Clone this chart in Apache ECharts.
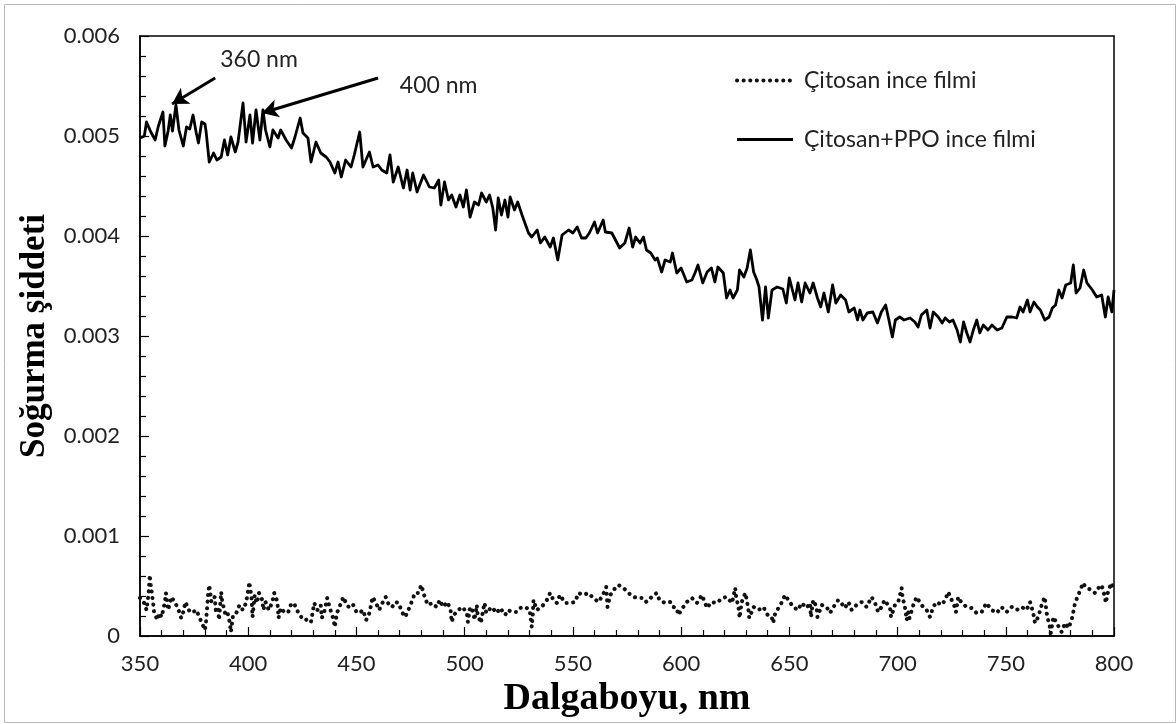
<!DOCTYPE html>
<html>
<head>
<meta charset="utf-8">
<title>Soğurma şiddeti</title>
<script src="https://cdn.jsdelivr.net/npm/echarts@6/dist/echarts.min.js"></script>
<style>
    html, body { margin: 0; padding: 0; background: #fff; }
    #chart { width: 1176px; height: 724px; }
</style>
</head>
<body>
<div id="chart"></div>
<script>
// Çitosan+PPO ince filmi (düz çizgi)
let ppoNm = [
    350, 352, 353, 355, 357, 358.5, 360.6, 361.5, 363, 364,
    365, 366.6, 368, 370, 371.5, 373, 374.5, 376, 377, 378.5,
    380, 380.5, 382, 384, 385.5, 387.5, 389, 390.5, 392, 394,
    395.3, 397.6, 399, 400.8, 402, 403.6, 405.4, 406.8, 408, 410,
    411.4, 413.8, 415, 417.5, 420, 421.6, 424, 425.3, 427.6, 429,
    431.3, 433.5, 436, 437.8, 440, 441.5, 443, 445, 447.5, 449,
    451.5, 453, 456, 457.7, 460, 461.7, 464, 465.5, 467, 469.3,
    471.7, 473.4, 474.8, 476, 478, 481, 483.7, 486, 488, 489,
    490.7, 492.5, 494, 496, 497.8, 499.4, 500.8, 502.5, 504.5, 506.4,
    507.8, 510, 511.5, 513, 514.3, 515.5, 517, 518.6, 520, 521,
    523, 524.5, 526.5, 529.5, 531, 533.5, 535, 537, 539.5, 541,
    543, 545, 548, 550, 552, 554, 556, 557.6, 560, 561.4,
    564, 565, 568, 571.6, 574, 576, 577.6, 579, 581, 582.6,
    584, 586, 588, 589, 591, 592.6, 595, 596, 598, 600,
    602.6, 605, 606.4, 607.8, 610, 612, 614, 615.6, 617, 619.5,
    621, 622.6, 624, 626, 627, 629, 630.5, 632, 633.5, 635,
    636, 637.6, 639, 640.3, 642, 644.4, 647, 648.6, 650, 652.6,
    654, 655.7, 657.3, 659.5, 661, 663, 664.5, 666, 668, 670,
    671.5, 673.7, 676, 677.5, 680, 681.5, 682.6, 684, 686, 688.6,
    690.7, 692.5, 694.5, 696, 697.6, 699, 701, 703, 705.8, 708,
    709.5, 711, 713.5, 715, 716.5, 718.8, 720.6, 722, 724, 725.6,
    727.5, 729, 730.5, 732, 733.5, 735, 736.6, 738, 739.6, 741.8,
    743.6, 746, 748.2, 750.5, 753, 755, 756.6, 758, 760, 761.2,
    763, 764.6, 766, 768, 770, 771.5, 773, 774.5, 776, 777.7,
    780, 781.2, 782.5, 784.3, 786, 787.5, 790, 792, 794.3, 796,
    797.3, 799, 800
];
let ppoVal = [
    0.00498, 0.00500, 0.00514, 0.00504, 0.00496, 0.00510, 0.00524, 0.00490, 0.00505, 0.00521,
    0.00505, 0.00531, 0.00506, 0.00490, 0.00509, 0.00507, 0.00521, 0.00503, 0.00493, 0.00514,
    0.00512, 0.00505, 0.00474, 0.00483, 0.00476, 0.00479, 0.00496, 0.00481, 0.00499, 0.00484,
    0.00494, 0.00533, 0.00494, 0.00521, 0.00493, 0.00526, 0.00496, 0.00526, 0.00506, 0.00489,
    0.00506, 0.00498, 0.00506, 0.00496, 0.00488, 0.00499, 0.00518, 0.00503, 0.00498, 0.00474,
    0.00494, 0.00483, 0.00479, 0.00474, 0.00463, 0.00474, 0.00459, 0.00476, 0.00469, 0.00481,
    0.00504, 0.00469, 0.00484, 0.00469, 0.00471, 0.00466, 0.00463, 0.00481, 0.00454, 0.00469,
    0.00448, 0.00466, 0.00446, 0.00463, 0.00444, 0.00461, 0.00449, 0.00448, 0.00456, 0.00431,
    0.00454, 0.00436, 0.00441, 0.00429, 0.00441, 0.00429, 0.00446, 0.00419, 0.00434, 0.00431,
    0.00443, 0.00434, 0.00441, 0.00428, 0.00406, 0.00438, 0.00421, 0.00436, 0.00419, 0.00439,
    0.00426, 0.00434, 0.00421, 0.00403, 0.00399, 0.00406, 0.00393, 0.00399, 0.00389, 0.00398,
    0.00376, 0.00401, 0.00406, 0.00403, 0.00409, 0.00398, 0.00398, 0.00403, 0.00414, 0.00403,
    0.00416, 0.00404, 0.00403, 0.00388, 0.00393, 0.00408, 0.00389, 0.00399, 0.00393, 0.00399,
    0.00386, 0.00383, 0.00376, 0.00378, 0.00364, 0.00376, 0.00374, 0.00383, 0.00363, 0.00368,
    0.00354, 0.00356, 0.00363, 0.00371, 0.00353, 0.00364, 0.00368, 0.00354, 0.00369, 0.00363,
    0.00338, 0.00346, 0.00338, 0.00346, 0.00366, 0.00359, 0.00368, 0.00386, 0.00364, 0.00356,
    0.00349, 0.00316, 0.00349, 0.00318, 0.00346, 0.00349, 0.00347, 0.00333, 0.00358, 0.00336,
    0.00353, 0.00334, 0.00353, 0.00343, 0.00353, 0.00338, 0.00329, 0.00343, 0.00324, 0.00351,
    0.00333, 0.00341, 0.00336, 0.00324, 0.00328, 0.00316, 0.00326, 0.00316, 0.00323, 0.00324,
    0.00313, 0.00324, 0.00331, 0.00316, 0.00299, 0.00316, 0.00319, 0.00316, 0.00318, 0.00314,
    0.00309, 0.00321, 0.00326, 0.00308, 0.00324, 0.00319, 0.00313, 0.00318, 0.00314, 0.00316,
    0.00306, 0.00294, 0.00314, 0.00303, 0.00294, 0.00306, 0.00316, 0.00303, 0.00311, 0.00306,
    0.00311, 0.00306, 0.00308, 0.00319, 0.00319, 0.00318, 0.00329, 0.00324, 0.00336, 0.00324,
    0.00334, 0.00329, 0.00326, 0.00316, 0.00319, 0.00328, 0.00331, 0.00346, 0.00338, 0.00351,
    0.00353, 0.00371, 0.00343, 0.00348, 0.00366, 0.00353, 0.00346, 0.00339, 0.00341, 0.00319,
    0.00339, 0.00324, 0.00346
];

// Çitosan ince filmi (noktalı çizgi)
let chitNm = [
    350, 351, 352, 353, 354, 354.5, 355, 356, 356.5, 358,
    359, 360, 361.5, 362, 363, 364.5, 366, 367.5, 369, 370,
    371, 372.5, 374, 376, 378, 379, 380, 380.5, 381.5, 382,
    383, 384.5, 385, 386, 386.5, 387.5, 388, 389, 389.5, 390.5,
    391.5, 392, 393, 394.5, 396, 397.5, 399, 400, 400.5, 401.5,
    402, 403, 404, 405, 406.5, 407, 408, 409.5, 411, 412,
    413.5, 414, 415, 417, 418.5, 420, 421.5, 423, 424.5, 426,
    427.5, 429, 430.5, 432, 433.5, 434, 435, 436.5, 438, 439.5,
    440, 441, 442.5, 444, 445.5, 447, 448.5, 450, 451.5, 453,
    454.5, 456, 457.5, 459, 460.5, 462, 463.5, 465, 466.5, 468,
    469.5, 471, 472.5, 474, 475.5, 477, 478.5, 480, 481.5, 483,
    485, 487, 488.5, 490, 492, 493.5, 494, 495, 497, 499,
    501, 501.5, 502.5, 504, 504.5, 505.6, 506, 507, 507.5, 508.7,
    509.2, 510, 512.5, 514.8, 516.4, 518.7, 520, 521.8, 524, 525.6,
    528, 530, 530.5, 531, 531.4, 531.8, 533.3, 535.6, 538, 539.5,
    541, 542.6, 544, 546.4, 548.7, 551, 552.6, 555, 557, 559.5,
    561.8, 563.3, 565, 565.4, 566, 566.5, 567.3, 568.8, 571, 573.4,
    575.7, 578, 580.3, 582.6, 584, 586.4, 588.7, 590, 592.6, 595,
    596.4, 598, 598.7, 601, 602.6, 605, 607.3, 609.6, 612, 614,
    616.5, 619, 621, 623.5, 625, 625.5, 626.5, 627, 628, 629.7,
    631, 631.5, 633.5, 635.8, 638, 640.5, 642, 642.5, 643.5, 645,
    646.6, 648, 650.5, 651.8, 654, 655.7, 658, 659.5, 660, 661,
    662.6, 663, 665, 667.2, 668.8, 671, 672.6, 674, 675.7, 677.3,
    678.8, 681, 683.4, 685.7, 688, 689.6, 691, 692.6, 694, 696.5,
    697, 698.8, 700.3, 701.9, 702.3, 703.4, 703.8, 704.2, 705, 705.5,
    707.3, 708.8, 711, 713.4, 715, 716.5, 718, 720.4, 722, 723.4,
    725, 725.4, 726.5, 727, 728, 729.6, 732, 734.2, 736.5, 738.9,
    741, 743.5, 745.8, 748, 750.4, 752.7, 755, 757.3, 759.6, 761.2,
    762.7, 763.5, 765, 766.6, 768, 768.9, 769.6, 770.4, 770.8, 772,
    773.5, 775.8, 777.4, 779, 780.4, 781.2, 782, 783.5, 785, 785.5,
    787.4, 789.7, 791.2, 792.8, 794.3, 795.8, 796.2, 797.4, 799, 799.5,
    800
];
let chitVal = [
    0.00038, 0.00034, 0.00033, 0.00026, 0.00043, 0.00061, 0.00051, 0.00034, 0.00024, 0.00016,
    0.00023, 0.00019, 0.00034, 0.00043, 0.00026, 0.00039, 0.00034, 0.00028, 0.00018, 0.00024,
    0.00034, 0.00026, 0.00023, 0.00026, 0.00016, 0.00011, 0.00006, 0.00014, 0.00043, 0.00051,
    0.00034, 0.00039, 0.00026, 0.00029, 0.00016, 0.00044, 0.00034, 0.00026, 0.00021, 0.00023,
    0.00013, 0.00004, 0.00021, 0.00023, 0.00031, 0.00026, 0.00033, 0.00046, 0.00054, 0.00039,
    0.00019, 0.00041, 0.00033, 0.00043, 0.00036, 0.00026, 0.00034, 0.00026, 0.00033, 0.00043,
    0.00034, 0.00018, 0.00028, 0.00023, 0.00024, 0.00033, 0.00031, 0.00024, 0.00019, 0.00019,
    0.00014, 0.00014, 0.00033, 0.00026, 0.00031, 0.00018, 0.00023, 0.00038, 0.00026, 0.00016,
    0.00009, 0.00023, 0.00031, 0.00039, 0.00031, 0.00028, 0.00031, 0.00024, 0.00023, 0.00026,
    0.00016, 0.00023, 0.00039, 0.00033, 0.00026, 0.00033, 0.00039, 0.00031, 0.00029, 0.00034,
    0.00033, 0.00024, 0.00019, 0.00026, 0.00034, 0.00043, 0.00043, 0.00051, 0.00039, 0.00031,
    0.00033, 0.00029, 0.00036, 0.00029, 0.00034, 0.00026, 0.00014, 0.00021, 0.00026, 0.00029,
    0.00023, 0.00014, 0.00029, 0.00024, 0.00016, 0.00031, 0.00021, 0.00016, 0.00013, 0.00028,
    0.00033, 0.00023, 0.00029, 0.00023, 0.00028, 0.00021, 0.00026, 0.00024, 0.00024, 0.00028,
    0.00029, 0.00026, 0.00018, 0.00009, 0.00019, 0.00036, 0.00026, 0.00029, 0.00036, 0.00043,
    0.00036, 0.00033, 0.00041, 0.00033, 0.00033, 0.00034, 0.00043, 0.00041, 0.00043, 0.00038,
    0.00034, 0.00039, 0.00046, 0.00049, 0.00029, 0.00034, 0.00041, 0.00046, 0.00051, 0.00048,
    0.00043, 0.00039, 0.00038, 0.00038, 0.00034, 0.00039, 0.00043, 0.00036, 0.00033, 0.00034,
    0.00029, 0.00028, 0.00021, 0.00029, 0.00034, 0.00038, 0.00033, 0.00041, 0.00028, 0.00034,
    0.00033, 0.00038, 0.00039, 0.00033, 0.00048, 0.00038, 0.00029, 0.00018, 0.00034, 0.00043,
    0.00028, 0.00018, 0.00029, 0.00026, 0.00029, 0.00019, 0.00018, 0.00013, 0.00023, 0.00028,
    0.00034, 0.00041, 0.00033, 0.00029, 0.00026, 0.00033, 0.00028, 0.00033, 0.00019, 0.00036,
    0.00029, 0.00019, 0.00031, 0.00029, 0.00023, 0.00031, 0.00036, 0.00033, 0.00028, 0.00034,
    0.00026, 0.00031, 0.00034, 0.00029, 0.00039, 0.00033, 0.00024, 0.00029, 0.00036, 0.00028,
    0.00019, 0.00031, 0.00034, 0.00048, 0.00039, 0.00029, 0.00023, 0.00016, 0.00024, 0.00018,
    0.00031, 0.00039, 0.00031, 0.00026, 0.00019, 0.00029, 0.00034, 0.00031, 0.00036, 0.00044,
    0.00036, 0.00033, 0.00029, 0.00024, 0.00039, 0.00033, 0.00029, 0.00028, 0.00023, 0.00024,
    0.00033, 0.00026, 0.00023, 0.00029, 0.00024, 0.00029, 0.00026, 0.00029, 0.00026, 0.00034,
    0.00023, 0.00013, 0.00019, 0.00031, 0.00039, 0.00023, 0.00016, 0.00009, 0.00003, 0.00019,
    0.00013, 0.00004, 0.00013, 0.00008, 0.00016, 0.00024, 0.00033, 0.00041, 0.00049, 0.00053,
    0.00048, 0.00046, 0.00043, 0.00048, 0.00051, 0.00039, 0.00033, 0.00046, 0.00053, 0.00048,
    0.00046
];

let seriesNames = ['Çitosan ince filmi', 'Çitosan+PPO ince filmi'];

// ok işaretleri: [etiket, yazı konumu, ok başlangıcı, ok ucu]
let peakLabels = ['360 nm', '400 nm'];
let labelAt = [[405, 0.00576], [488, 0.0055]];
let arrowFrom = [[384.7, 0.00558], [460, 0.00558]];
let arrowTo = [[364.8, 0.00532], [406.4, 0.00523]];

let xTicks = { min: 350, max: 800, interval: 50 };
let yTicks = { min: 0, max: 0.006, interval: 0.001 };


function pairs(xs, ys) {
    let out = [];
    for (let i = 0; i < xs.length && i < ys.length; i++) {
        out.push([xs[i], ys[i]]);
    }
    return out;
}

var myChart = echarts.init(document.getElementById('chart'));

let labelFont = 'Lato, "Open Sans", sans-serif';
let titleFont = '"Liberation Serif", "DejaVu Serif", serif';

let dotLine = { color: '#111', width: 4, type: [0.1, 6.5], cap: 'round' };
let solidLine = { color: '#000', width: 2.8, join: 'round' };

let option = {
    animation: false,
    backgroundColor: '#fff',
    grid: {
        left: 140,
        right: 62,
        top: 36,
        bottom: 88,
        show: true,
        borderColor: '#000',
        borderWidth: 1.5,
        backgroundColor: 'transparent'
    },
    legend: {
        orient: 'vertical',
        left: 730,
        top: 64,
        itemGap: 36,
        itemWidth: 56,
        itemHeight: 14,
        itemStyle: { opacity: 0 },
        data: [
            { name: seriesNames[0], lineStyle: dotLine },
            { name: seriesNames[1], lineStyle: { color: '#000', width: 3 } }
        ],
        textStyle: {
            fontFamily: labelFont,
            fontSize: 23,
            color: '#222',
            padding: [0, 0, 0, 6]
        }
    },
    xAxis: {
        type: 'value',
        min: xTicks.min,
        max: xTicks.max,
        interval: xTicks.interval,
        name: 'Dalgaboyu, nm',
        nameLocation: 'middle',
        nameGap: 44,
        nameTextStyle: {
            fontFamily: titleFont,
            fontWeight: 'bold',
            fontSize: 38,
            color: '#000'
        },
        axisLine: { lineStyle: { color: '#000', width: 1.5 } },
        axisTick: { inside: true, length: 9, lineStyle: { color: '#000', width: 1.2 } },
        minorTick: { show: true, splitNumber: 5, length: 6, lineStyle: { color: '#000', width: 1.2 } },
        axisLabel: { fontFamily: labelFont, fontSize: 22, color: '#222', margin: 17 },
        splitLine: { show: false }
    },
    yAxis: {
        type: 'value',
        min: yTicks.min,
        max: yTicks.max,
        interval: yTicks.interval,
        name: 'Soğurma şiddeti',
        nameLocation: 'middle',
        nameGap: 81,
        nameRotate: 90,
        nameTextStyle: {
            fontFamily: titleFont,
            fontWeight: 'bold',
            fontSize: 35,
            color: '#000'
        },
        axisLine: { show: true, lineStyle: { color: '#000', width: 1.5 } },
        axisTick: { show: true, inside: true, length: 9, lineStyle: { color: '#000', width: 1.2 } },
        minorTick: { show: true, splitNumber: 5, length: 6, lineStyle: { color: '#000', width: 1.2 } },
        axisLabel: {
            fontFamily: labelFont,
            fontSize: 22,
            color: '#222',
            margin: 20,
            formatter: function (v) {
                return v === 0 ? '0' : v.toFixed(3);
            }
        },
        splitLine: { show: false }
    },
    series: [
        {
            name: seriesNames[0],
            type: 'line',
            symbol: 'none',
            data: pairs(chitNm, chitVal),
            lineStyle: dotLine,
            itemStyle: { color: '#111' }
        },
        {
            name: seriesNames[1],
            type: 'line',
            symbol: 'none',
            data: pairs(ppoNm, ppoVal),
            lineStyle: solidLine,
            itemStyle: { color: '#000' },
            markLine: {
                silent: true,
                symbol: ['none', 'arrow'],
                symbolSize: [14, 16],
                lineStyle: { color: '#000', width: 3, type: 'solid' },
                label: { show: false },
                data: arrowFrom.map(function (p, i) {
                    return [{ coord: p }, { coord: arrowTo[i] }];
                })
            },
            markPoint: {
                silent: true,
                symbol: 'circle',
                symbolSize: 0,
                label: {
                    show: true,
                    position: 'inside',
                    formatter: '{b}',
                    fontFamily: labelFont,
                    fontSize: 23,
                    color: '#222'
                },
                data: peakLabels.map(function (t, i) {
                    return { name: t, coord: labelAt[i] };
                })
            }
        }
    ],
    graphic: [{
        type: 'rect',
        left: 2,
        top: 2,
        shape: { width: 1171, height: 718 },
        style: { fill: 'none', stroke: '#b8b8b8', lineWidth: 1 },
        silent: true
    }]
};

myChart.setOption(option);
</script>
</body>
</html>
